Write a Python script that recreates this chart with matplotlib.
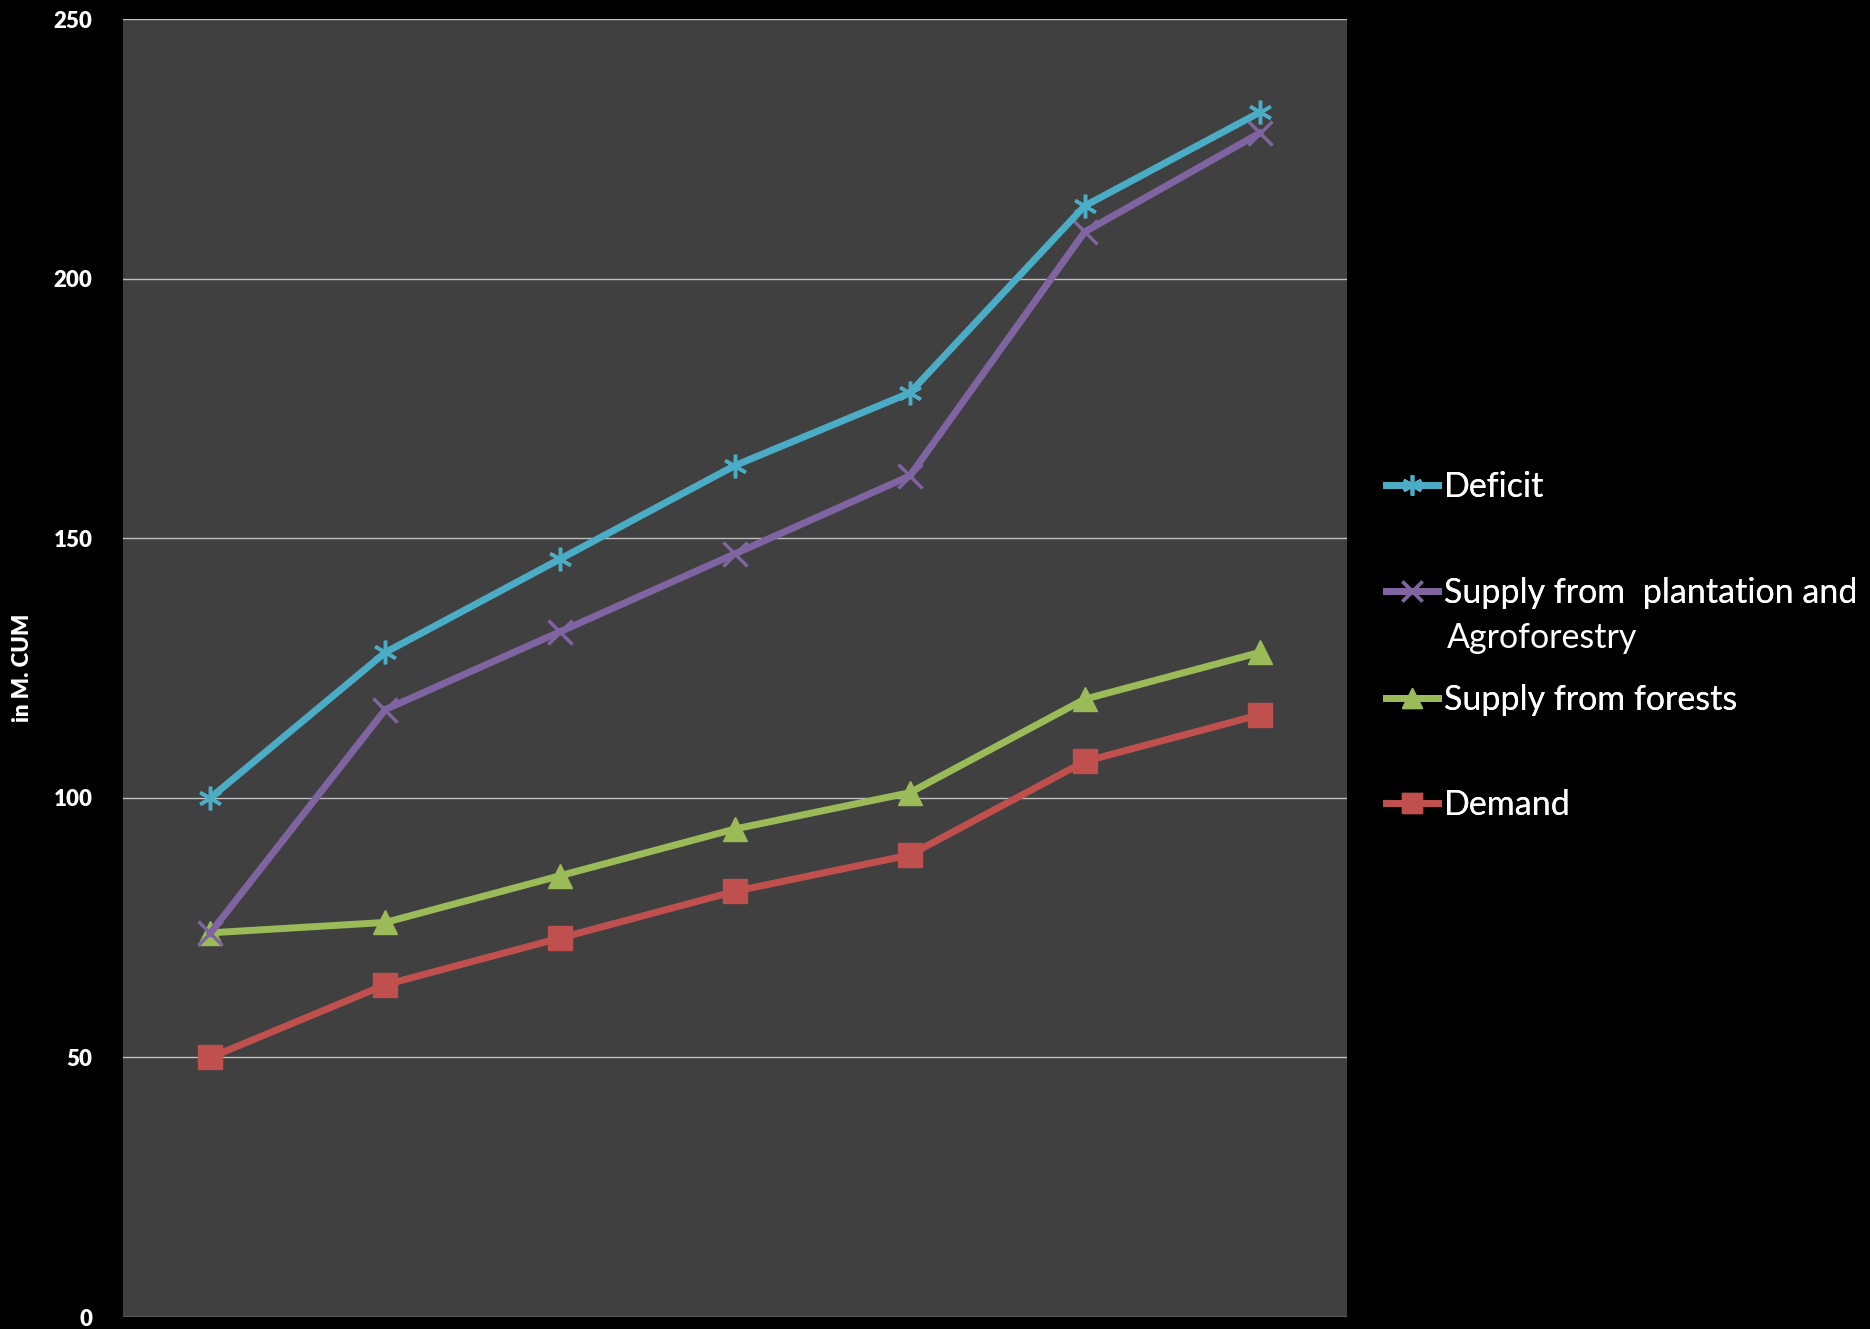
import matplotlib.pyplot as plt
import numpy as np

plt.rcParams['font.family'] = ['Lato', 'DejaVu Sans']

# values (in M. CUM), seven periods
periods = ['1', '2', '3', '4', '5', '6', '7']
deficit = [100, 128, 146, 164, 178, 214, 232]
plantation = [74, 117, 132, 147, 162, 209, 228]
forests = [74, 76, 85, 94, 101, 119, 128]
demand = [50, 64, 73, 82, 89, 107, 116]

labels = ['Deficit', 'Supply from  plantation and',
          'Supply from forests', 'Demand']
colors = ['#4bacc6', '#8064a2', '#9bbb59', '#c0504d']
markers = [(6, 2, 0), 'x', '^', 's']

fig = plt.figure(figsize=(18.7, 13.29), dpi=100, facecolor='black')
ax = fig.add_axes([0.0658, 0.009, 0.6545, 0.9767])
ax.set_facecolor('#404040')

x = np.arange(len(periods))
series = [deficit, plantation, forests, demand]
handles = []
for i, (vals, lab, col, mk) in enumerate(zip(series, labels, colors, markers)):
    mew = 2.5 if mk in ('x', (6, 2, 0)) else 1
    h, = ax.plot(x, vals, color=col, lw=5, marker=mk, ms=17,
                 mec=col, mfc=col, mew=mew, label=lab, zorder=10 - i)
    handles.append(h)

ax.set_xlim(-0.5, 6.5)
ax.set_ylim(0, 250)
ax.set_yticks([0, 50, 100, 150, 200, 250])
ax.set_xticks([])
ax.grid(axis='y', color='#bfbfbf', lw=1)
ax.set_axisbelow(True)
ax.tick_params(axis='y', length=0, pad=22, labelcolor='white', labelsize=16)
for t in ax.get_yticklabels():
    t.set_fontweight('heavy')
for s in ax.spines.values():
    s.set_visible(False)

ax.set_ylabel('in M. CUM', color='white', fontsize=16, fontweight='heavy')
ax.yaxis.set_label_coords(-0.0735, 0.5)

# legend entries placed one by one (uneven spacing as in the original)
leg_y = [0.6336, 0.5538, 0.4733, 0.3943]
for h, y in zip(handles, leg_y):
    lg = fig.legend(handles=[h], loc='center left', bbox_to_anchor=(0.741, y),
                    frameon=False, fontsize=24.5, labelcolor='white',
                    handlelength=1.55, handletextpad=0.15, borderpad=0,
                    borderaxespad=0, markerscale=0.85)
    fig.add_artist(lg)
fig.text(0.7735, 0.520, 'Agroforestry', color='white', fontsize=24.5,
         va='center', ha='left')

fig.savefig('out.png', dpi=100, facecolor='black')
